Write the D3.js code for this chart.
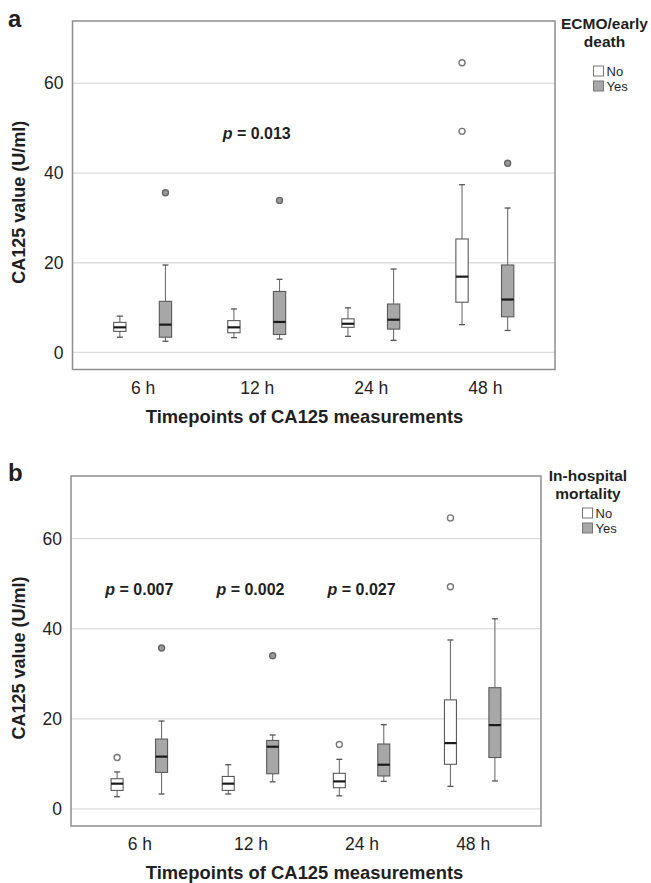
<!DOCTYPE html>
<html>
<head>
<meta charset="utf-8">
<script src="https://cdn.jsdelivr.net/npm/d3@7"></script>
<style>
  html, body { margin: 0; padding: 0; background: #fff; }
  svg { display: block; font-family: "Liberation Sans", Arial, sans-serif; }
</style>
</head>
<body>
<svg id="chart" width="651" height="883"></svg>
<script>
// ---------- data ----------
const categories = ["6 h", "12 h", "24 h", "48 h"];
const groups = ["No", "Yes"];
const yTicks = [0, 20, 40, 60];

// box stats: [whiskerLow, q1, median, q3, whiskerHigh]
const ecmoNo  = [[3.4, 4.7, 5.6, 6.7, 8.1], [3.3, 4.4, 5.6, 7.1, 9.7], [3.6, 5.6, 6.4, 7.5, 9.95], [6.2, 11.2, 16.9, 25.3, 37.4]];
const ecmoYes = [[2.5, 3.4, 6.2, 11.4, 19.5], [3.0, 4.0, 6.8, 13.6, 16.3], [2.7, 5.2, 7.3, 10.8, 18.6], [4.9, 7.95, 11.8, 19.5, 32.2]];
const ecmoNoOutliers  = [[], [], [], [49.3, 64.6]];
const ecmoYesOutliers = [[35.6], [33.9], [], [42.2]];
const ecmoPValues = [["12 h", "0.013"]];

const mortNo  = [[2.7, 4.1, 5.6, 6.7, 8.2], [3.3, 4.1, 5.6, 7.2, 9.8], [2.9, 4.7, 6.1, 7.9, 11.0], [5.0, 9.9, 14.6, 24.2, 37.5]];
const mortYes = [[3.3, 8.1, 11.6, 15.5, 19.5], [6.0, 7.8, 13.8, 15.2, 16.4], [6.1, 7.3, 9.8, 14.4, 18.7], [6.2, 11.4, 18.6, 26.9, 42.2]];
const mortNoOutliers  = [[11.4], [], [14.3], [49.3, 64.6]];
const mortYesOutliers = [[35.7], [34.0], [], []];
const mortPValues = [["6 h", "0.007"], ["12 h", "0.002"], ["24 h", "0.027"]];

const pLabelValue = 47.5;

// ---------- drawing ----------
const svg = d3.select("#chart");
const textColor = "#1f1f1f";
const fillColor = { No: "#ffffff", Yes: "#a7a7a7" };

function drawPanel(cfg) {
  const g = svg.append("g");
  const x = d3.scalePoint().domain(categories).range([cfg.left, cfg.right]).padding(0.615);
  const y = d3.scaleLinear().domain([-3.8, 73.9]).range([cfg.bottom, cfg.top]);
  const step = x.step();
  const off = step * 0.2;
  const bw = step * 0.108;
  const cap = 3;

  // gridlines
  g.selectAll(".grid").data(yTicks).join("line")
    .attr("x1", cfg.left).attr("x2", cfg.right)
    .attr("y1", d => y(d)).attr("y2", d => y(d))
    .attr("stroke", "#dcdcdc").attr("stroke-width", 1.3);

  // y axis (labels only)
  const yAxis = d3.axisLeft(y).tickValues(yTicks).tickSize(0).tickPadding(9);
  const ya = g.append("g").attr("transform", `translate(${cfg.left},0)`).call(yAxis);
  ya.select(".domain").remove();
  ya.selectAll("text").attr("font-size", 17.5).attr("fill", textColor)
    .attr("font-family", "Liberation Sans, Arial, sans-serif");

  // x axis (labels only)
  const xAxis = d3.axisBottom(x).tickSize(0).tickPadding(0);
  const xa = g.append("g").attr("transform", `translate(0,${cfg.bottom})`).call(xAxis);
  xa.select(".domain").remove();
  xa.selectAll("text").attr("font-size", 17.5).attr("fill", textColor)
    .attr("dy", null).attr("y", 24)
    .attr("font-family", "Liberation Sans, Arial, sans-serif");

  // boxes
  const series = [["No", cfg.no, cfg.noOut, -off], ["Yes", cfg.yes, cfg.yesOut, off]];
  series.forEach(([grp, stats, outs, dx]) => {
    stats.forEach((s, i) => {
      const cx = x(categories[i]) + dx;
      const [lo, q1, med, q3, hi] = s;
      const bg = g.append("g");
      bg.append("line").attr("x1", cx).attr("x2", cx).attr("y1", y(q3)).attr("y2", y(hi))
        .attr("stroke", "#6e6e6e").attr("stroke-width", 1.1);
      bg.append("line").attr("x1", cx).attr("x2", cx).attr("y1", y(q1)).attr("y2", y(lo))
        .attr("stroke", "#6e6e6e").attr("stroke-width", 1.1);
      [lo, hi].forEach(v => bg.append("line")
        .attr("x1", cx - cap).attr("x2", cx + cap).attr("y1", y(v)).attr("y2", y(v))
        .attr("stroke", "#555").attr("stroke-width", 1.3));
      bg.append("rect").attr("x", cx - bw / 2).attr("width", bw)
        .attr("y", y(q3)).attr("height", y(q1) - y(q3))
        .attr("fill", fillColor[grp]).attr("stroke", "#5a5a5a").attr("stroke-width", 1.1);
      bg.append("line").attr("x1", cx - bw / 2).attr("x2", cx + bw / 2)
        .attr("y1", y(med)).attr("y2", y(med))
        .attr("stroke", "#1a1a1a").attr("stroke-width", 2.2);
      outs[i].forEach(v => bg.append("circle").attr("cx", cx).attr("cy", y(v)).attr("r", 3)
        .attr("fill", grp === "No" ? "#fff" : "#9a9a9a")
        .attr("stroke", grp === "No" ? "#777" : "#666").attr("stroke-width", 1.4));
    });
  });

  // frame
  g.append("rect").attr("x", cfg.left).attr("y", cfg.top)
    .attr("width", cfg.right - cfg.left).attr("height", cfg.bottom - cfg.top)
    .attr("fill", "none").attr("stroke", "#8f8f8f").attr("stroke-width", 1.5);

  // p values
  cfg.p.forEach(([cat, val]) => {
    const t = g.append("text").attr("x", x(cat)).attr("y", y(pLabelValue))
      .attr("text-anchor", "middle").attr("font-size", 16).attr("font-weight", "bold")
      .attr("fill", textColor);
    t.append("tspan").attr("font-style", "italic").text("p");
    t.append("tspan").text(" = " + val);
  });

  // axis titles
  g.append("text").attr("x", 304.5).attr("y", cfg.bottom + 53)
    .attr("text-anchor", "middle").attr("font-size", 18.4).attr("font-weight", "bold")
    .attr("fill", textColor).text("Timepoints of CA125 measurements");
  g.append("text")
    .attr("transform", `translate(${25},${(cfg.top + cfg.bottom) / 2 + 7}) rotate(-90)`)
    .attr("text-anchor", "middle").attr("font-size", 18).attr("font-weight", "bold")
    .attr("fill", textColor).text("CA125 value (U/ml)");

  // panel letter
  g.append("text").attr("x", 8).attr("y", cfg.letterY).attr("font-size", 24)
    .attr("font-weight", "bold").attr("fill", textColor).text(cfg.letter);

  // legend
  const L = cfg.legend;
  L.title.forEach((line, k) => g.append("text").attr("x", L.cx).attr("y", L.titleY + k * 18)
    .attr("text-anchor", "middle").attr("font-size", 15.5).attr("font-weight", "bold")
    .attr("fill", textColor).text(line));
  groups.forEach((grp, k) => {
    const yy = L.boxY + k * L.gap;
    g.append("rect").attr("x", L.boxX).attr("y", yy).attr("width", 10).attr("height", 10)
      .attr("fill", fillColor[grp]).attr("stroke", "#777").attr("stroke-width", 1);
    g.append("text").attr("x", L.boxX + 13).attr("y", yy + 10).attr("font-size", 13)
      .attr("fill", textColor).text(grp);
  });
}

drawPanel({
  left: 72.5, right: 555, top: 21, bottom: 369.5,
  no: ecmoNo, yes: ecmoYes, noOut: ecmoNoOutliers, yesOut: ecmoYesOutliers,
  p: ecmoPValues, letter: "a", letterY: 27,
  legend: { title: ["ECMO/early", "death"], cx: 604.5, titleY: 28.5, boxX: 593.5, boxY: 66, gap: 15 }
});

drawPanel({
  left: 71, right: 541, top: 476, bottom: 826,
  no: mortNo, yes: mortYes, noOut: mortNoOutliers, yesOut: mortYesOutliers,
  p: mortPValues, letter: "b", letterY: 481,
  legend: { title: ["In-hospital", "mortality"], cx: 588, titleY: 481, boxX: 582.5, boxY: 508, gap: 15 }
});
</script>
</body>
</html>
